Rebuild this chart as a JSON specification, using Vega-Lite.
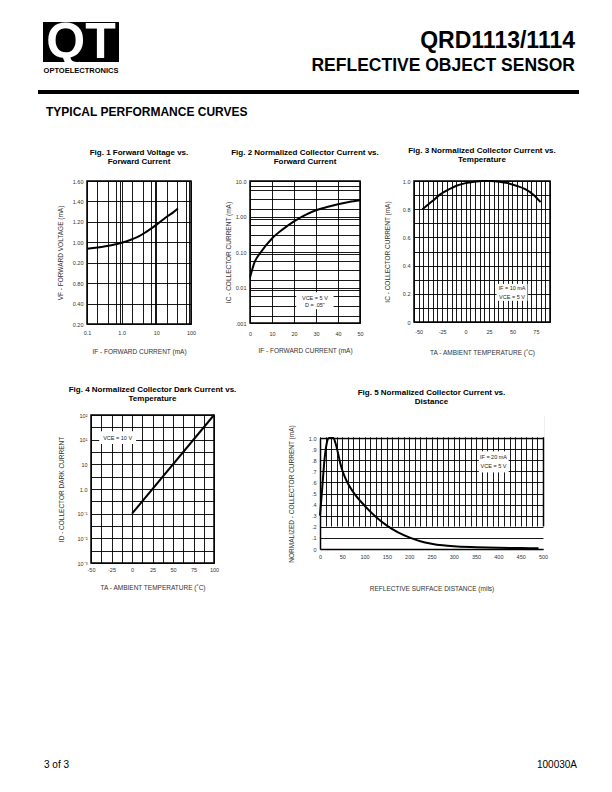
{
  "$schema": "https://vega.github.io/schema/vega-lite/v6.json",
  "background": "white",
  "padding": {"left": 36, "top": 16, "right": 0, "bottom": 0},
  "spacing": 0,
  "config": {
    "font": "Liberation Sans",
    "view": {"stroke": "black", "strokeWidth": 1.5},
    "axis": {"grid": true, "gridColor": "black", "gridWidth": 0.9, "gridOpacity": 1, "domain": false, "ticks": false, "labelFontSize": 5.5, "labelColor": "#333", "labelPadding": 4, "labelFlush": false, "labelOverlap": false, "titleFontSize": 6.5, "titleFontWeight": "normal", "titleColor": "#333"},
    "title": {"font": "Liberation Sans", "fontSize": 8, "fontWeight": "bold", "anchor": "middle", "frame": "group", "lineHeight": 9, "color": "black"},
    "line": {"color": "black", "strokeWidth": 2}
  },
  "vconcat": [
    {
      "width": 541, "height": 130,
      "view": {"stroke": null},
      "data": {"values": [{}]},
      "layer": [
        {"mark": {"type": "rect", "color": "black"},
         "encoding": {"x": {"datum": 5, "type": "quantitative", "scale": {"domain": [0, 541], "nice": false, "zero": false}, "axis": null}, "x2": {"datum": 81},
                      "y": {"datum": 6, "type": "quantitative", "scale": {"domain": [0, 130], "nice": false, "zero": false, "reverse": true}, "axis": null}, "y2": {"datum": 46}}},
        {"mark": {"type": "text", "text": "QT", "fontSize": 50, "fontWeight": "bold", "color": "white", "align": "center", "baseline": "middle"},
         "encoding": {"x": {"datum": 43, "type": "quantitative", "axis": null}, "y": {"datum": 26.5, "type": "quantitative", "axis": null}}},
        {"mark": {"type": "text", "text": "OPTOELECTRONICS", "fontSize": 7.5, "fontWeight": "bold", "color": "black", "align": "center", "baseline": "middle"},
         "encoding": {"x": {"datum": 43, "type": "quantitative", "axis": null}, "y": {"datum": 54.5, "type": "quantitative", "axis": null}}},
        {"mark": {"type": "text", "text": "QRD1113/1114", "fontSize": 23, "fontWeight": "bold", "color": "black", "align": "right", "baseline": "alphabetic"},
         "encoding": {"x": {"datum": 537, "type": "quantitative", "axis": null}, "y": {"datum": 32, "type": "quantitative", "axis": null}}},
        {"mark": {"type": "text", "text": "REFLECTIVE OBJECT SENSOR", "fontSize": 17.5, "fontWeight": "bold", "color": "black", "align": "right", "baseline": "alphabetic"},
         "encoding": {"x": {"datum": 537, "type": "quantitative", "axis": null}, "y": {"datum": 55, "type": "quantitative", "axis": null}}},
        {"mark": {"type": "rule", "color": "black", "strokeWidth": 4},
         "encoding": {"x": {"datum": 0, "type": "quantitative", "axis": null}, "x2": {"datum": 541}, "y": {"datum": 76, "type": "quantitative", "axis": null}}},
        {"mark": {"type": "text", "text": "TYPICAL PERFORMANCE CURVES", "fontSize": 12, "fontWeight": "bold", "color": "black", "align": "left", "baseline": "alphabetic"},
         "encoding": {"x": {"datum": 8, "type": "quantitative", "axis": null}, "y": {"datum": 100, "type": "quantitative", "axis": null}}}
      ]
    },
    {
      "spacing": 0,
      "hconcat": [
        {"width": 18, "height": 204, "view": {"stroke": null}, "data": {"values": []}, "mark": "point"},
        {
          "width": 104, "height": 143,
          "title": {"text": ["Fig. 1  Forward Voltage vs.", "Forward Current"], "offset": 13},
          "data": {"values": [
            {"current": 0.1, "voltage": 0.936}, {"current": 0.2, "voltage": 0.948}, {"current": 0.5, "voltage": 0.97},
            {"current": 1, "voltage": 0.995}, {"current": 2, "voltage": 1.03}, {"current": 3, "voltage": 1.055},
            {"current": 5, "voltage": 1.10}, {"current": 10, "voltage": 1.17}, {"current": 20, "voltage": 1.25},
            {"current": 30, "voltage": 1.29}, {"current": 42, "voltage": 1.33}
          ]},
          "mark": {"type": "line", "interpolate": "monotone"},
          "encoding": {
            "x": {"field": "current", "type": "quantitative", "scale": {"type": "log", "domain": [0.1, 100], "nice": false},
                  "axis": {"values": [0.1, 0.2, 0.4, 0.7, 0.9, 1, 2, 4, 7, 9, 10, 20, 40, 70, 90, 100],
                           "labelExpr": "datum.value == 0.1 ? '0.1' : datum.value == 1 ? '1.0' : datum.value == 10 ? '10' : datum.value == 100 ? '100' : ''",
                           "title": "IF - FORWARD CURRENT (mA)", "labelPadding": 6, "titlePadding": 13}},
            "y": {"field": "voltage", "type": "quantitative", "scale": {"domain": [0.2, 1.6], "nice": false, "zero": false},
                  "axis": {"values": [0.2, 0.4, 0.6, 0.8, 1.0, 1.2, 1.4, 1.6],
                           "labelExpr": "datum.value == 0.8 ? '0.20' : datum.value == 0.6 ? '0.80' : format(datum.value, '.2f')",
                           "title": "VF - FORWARD VOLTAGE (mA)", "titlePadding": 9}}
          }
        },
        {"width": 27, "height": 10, "view": {"stroke": null}, "data": {"values": []}, "mark": "point"},
        {
          "width": 110, "height": 142,
          "title": {"text": ["Fig. 2  Normalized Collector Current vs.", "Forward Current"], "offset": 13},
          "encoding": {
            "x": {"field": "current", "type": "quantitative", "scale": {"domain": [0, 50], "nice": false},
                  "axis": {"values": [0, 10, 20, 30, 40, 50], "title": "IF - FORWARD CURRENT (mA)", "labelPadding": 8, "titlePadding": 11}},
            "y": {"field": "ic", "type": "quantitative", "scale": {"type": "log", "domain": [0.001, 10], "nice": false},
                  "axis": {"values": [0.001, 0.0016, 0.0031, 0.0056, 0.0087, 0.01, 0.016, 0.031, 0.056, 0.087, 0.1, 0.16, 0.31, 0.56, 0.87, 1, 1.6, 3.1, 5.6, 7.2, 10],
                           "labelExpr": "datum.value == 10 ? '10.0' : datum.value == 1 ? '1.00' : datum.value == 0.1 ? '0.10' : datum.value == 0.01 ? '0.01' : datum.value == 0.001 ? '.001' : ''",
                           "title": "IC - COLLECTOR CURRENT (mA)", "titlePadding": 4}}
          },
          "layer": [
            {
              "data": {"values": [
                {"current": 0, "ic": 0.019}, {"current": 2, "ic": 0.05}, {"current": 5, "ic": 0.1}, {"current": 10, "ic": 0.24},
                {"current": 15, "ic": 0.44}, {"current": 20, "ic": 0.73}, {"current": 25, "ic": 1.1}, {"current": 30, "ic": 1.5},
                {"current": 35, "ic": 1.85}, {"current": 40, "ic": 2.2}, {"current": 45, "ic": 2.55}, {"current": 50, "ic": 2.85}
              ]},
              "mark": {"type": "line", "interpolate": "monotone"}
            },
            {
              "data": {"values": [{"current": 21, "current_end": 38, "ic": 0.0073, "ic_end": 0.00245}]},
              "mark": {"type": "rect", "color": "white"},
              "encoding": {"x2": {"field": "current_end"}, "y2": {"field": "ic_end"}}
            },
            {
              "data": {"values": [{"current": 29.5, "ic": 0.0052, "note": "VCE = 5 V"}, {"current": 29.5, "ic": 0.0032, "note": "D = .05\""}]},
              "mark": {"type": "text", "fontSize": 5.5, "baseline": "middle", "align": "center", "color": "#222"},
              "encoding": {"text": {"field": "note", "type": "nominal"}}
            }
          ]
        },
        {"width": 2, "height": 10, "view": {"stroke": null}, "data": {"values": []}, "mark": "point"},
        {
          "width": 136, "height": 141,
          "title": {"text": ["Fig. 3  Normalized Collector Current vs.", "Temperature"], "offset": 13},
          "encoding": {
            "x": {"field": "temp", "type": "quantitative", "scale": {"domain": [-55, 90], "nice": false, "zero": false},
                  "axis": {"values": [-55, -50, -45, -40, -35, -30, -25, -20, -15, -10, -5, 0, 5, 10, 15, 20, 25, 30, 35, 40, 45, 50, 55, 60, 65, 70, 75, 80, 85, 90],
                           "labelExpr": "datum.value % 25 == 0 && datum.value <= 75 ? '' + datum.value : ''",
                           "title": "TA - AMBIENT TEMPERATURE (˚C)", "labelPadding": 7, "titlePadding": 15}},
            "y": {"field": "ic", "type": "quantitative", "scale": {"domain": [0, 1], "nice": false},
                  "axis": {"values": [0, 0.1, 0.2, 0.3, 0.4, 0.5, 0.6, 0.7, 0.8, 0.9, 1],
                           "labelExpr": "datum.value == 0 ? '0' : datum.value == 0.2 ? '0.2' : datum.value == 0.4 ? '0.4' : datum.value == 0.6 ? '0.6' : datum.value == 0.8 ? '0.8' : datum.value == 1 ? '1.0' : ''",
                           "title": "IC - COLLECTOR CURRENT (mA)", "titlePadding": 12}}
          },
          "layer": [
            {
              "data": {"values": [
                {"temp": -46, "ic": 0.80}, {"temp": -35, "ic": 0.86}, {"temp": -27, "ic": 0.905}, {"temp": -15, "ic": 0.95},
                {"temp": -9, "ic": 0.968}, {"temp": 0, "ic": 0.985}, {"temp": 9, "ic": 0.995}, {"temp": 18, "ic": 1.0},
                {"temp": 27, "ic": 1.0}, {"temp": 36, "ic": 0.995}, {"temp": 45, "ic": 0.985}, {"temp": 55, "ic": 0.965},
                {"temp": 63, "ic": 0.944}, {"temp": 72, "ic": 0.905}, {"temp": 80, "ic": 0.85}
              ]},
              "mark": {"type": "line", "interpolate": "monotone"}
            },
            {
              "data": {"values": [{"temp": 33, "temp_end": 66, "ic": 0.27, "ic_end": 0.15}]},
              "mark": {"type": "rect", "color": "white"},
              "encoding": {"x2": {"field": "temp_end"}, "y2": {"field": "ic_end"}}
            },
            {
              "data": {"values": [{"temp": 49.5, "ic": 0.238, "note": "IF = 10 mA"}, {"temp": 49.5, "ic": 0.18, "note": "VCE = 5 V"}]},
              "mark": {"type": "text", "fontSize": 5.5, "baseline": "middle", "align": "center", "color": "#222"},
              "encoding": {"text": {"field": "note", "type": "nominal"}}
            }
          ]
        }
      ]
    },
    {
      "spacing": 0,
      "hconcat": [
        {"width": 19, "height": 338, "view": {"stroke": null}, "data": {"values": []}, "mark": "point"},
        {
          "width": 123, "height": 148,
          "title": {"text": ["Fig. 4  Normalized Collector Dark Current vs.", "Temperature"], "offset": 8},
          "encoding": {
            "x": {"field": "temp", "type": "quantitative", "scale": {"domain": [-50, 100], "nice": false, "zero": false},
                  "axis": {"values": [-50, -37.5, -25, -12.5, 0, 12.5, 25, 37.5, 50, 62.5, 75, 87.5, 100],
                           "labelExpr": "datum.value % 25 == 0 ? '' + datum.value : ''",
                           "title": "TA - AMBIENT TEMPERATURE (˚C)", "labelPadding": 4, "titlePadding": 12}},
            "y": {"field": "id", "type": "quantitative", "scale": {"type": "log", "domain": [0.001, 1000], "nice": false},
                  "axis": {"values": [0.001, 0.00316, 0.01, 0.0316, 0.1, 0.316, 1, 3.16, 10, 31.6, 100, 316, 1000],
                           "labelExpr": "datum.value == 1000 ? '10²' : datum.value == 100 ? '10¹' : datum.value == 10 ? '10' : datum.value == 1 ? '1.0' : datum.value == 0.1 ? '10⁻¹' : datum.value == 0.01 ? '10⁻²' : datum.value == 0.001 ? '10⁻³' : ''",
                           "title": "ID - COLLECTOR DARK CURRENT", "titlePadding": 13}}
          },
          "layer": [
            {
              "data": {"values": [{"temp": 0, "id": 0.1}, {"temp": 100, "id": 1000}]},
              "mark": {"type": "line"}
            },
            {
              "data": {"values": [{"temp": -40, "temp_end": 5, "id": 220, "id_end": 66}]},
              "mark": {"type": "rect", "color": "white"},
              "encoding": {"x2": {"field": "temp_end"}, "y2": {"field": "id_end"}}
            },
            {
              "data": {"values": [{"temp": -17.5, "id": 120, "note": "VCE = 10 V"}]},
              "mark": {"type": "text", "fontSize": 5.5, "baseline": "middle", "align": "center", "color": "#222"},
              "encoding": {"text": {"field": "note", "type": "nominal"}}
            }
          ]
        },
        {"width": 49, "height": 10, "view": {"stroke": null}, "data": {"values": []}, "mark": "point"},
        {
          "width": 223, "height": 134,
          "view": {"stroke": null},
          "title": {"text": ["Fig. 5  Normalized Collector Current vs.", "Distance"], "offset": 8},
          "encoding": {
            "x": {"field": "distance", "type": "quantitative", "scale": {"domain": [0, 500], "nice": false},
                  "axis": {"values": [0, 12.5, 25, 37.5, 50, 62.5, 75, 87.5, 100, 112.5, 125, 137.5, 150, 162.5, 175, 187.5, 200, 212.5, 225, 237.5, 250, 262.5, 275, 287.5, 300, 312.5, 325, 337.5, 350, 362.5, 375, 387.5, 400, 412.5, 425, 437.5, 450, 462.5, 475, 487.5, 500],
                           "labelExpr": "datum.value % 50 == 0 ? '' + datum.value : ''",
                           "domain": true, "domainColor": "black", "domainWidth": 1.5,
                           "gridWidth": {"condition": {"test": "datum.value == 500", "value": 1.5}, "value": 0.9},
                           "title": "REFLECTIVE SURFACE DISTANCE (mils)", "labelPadding": 5, "titlePadding": 26}},
            "y": {"field": "ic", "type": "quantitative", "scale": {"domain": [0, 1], "nice": false, "range": [134, 23]},
                  "axis": {"values": [0, 0.1, 0.2, 0.3, 0.4, 0.5, 0.6, 0.7, 0.8, 0.9, 1],
                           "labelExpr": "datum.value == 0 ? '0' : datum.value == 1 ? '1.0' : '.' + round(datum.value * 10)",
                           "domain": true, "domainColor": "black", "domainWidth": 1.5,
                           "gridWidth": {"condition": {"test": "datum.value == 1", "value": 1.5}, "value": 0.9},
                           "title": "NORMALIZED - COLLECTOR CURRENT (mA)", "titlePadding": 14}}
          },
          "layer": [
            {
              "data": {"values": [{"distance": -4, "distance_end": 504, "ic": 1.007, "ic_end": 1.22}]},
              "mark": {"type": "rect", "color": "white"},
              "encoding": {"x2": {"field": "distance_end"}, "y2": {"field": "ic_end"}}
            },
            {
              "data": {"values": [
                {"distance": 0, "ic": 0.3}, {"distance": 5, "ic": 0.55}, {"distance": 10, "ic": 0.8}, {"distance": 15, "ic": 0.95},
                {"distance": 20, "ic": 1.0}, {"distance": 30, "ic": 1.0}, {"distance": 35, "ic": 0.95}, {"distance": 40, "ic": 0.87},
                {"distance": 45, "ic": 0.78}, {"distance": 50, "ic": 0.71}, {"distance": 60, "ic": 0.61}, {"distance": 75, "ic": 0.51},
                {"distance": 100, "ic": 0.39}, {"distance": 125, "ic": 0.29}, {"distance": 150, "ic": 0.21}, {"distance": 175, "ic": 0.15},
                {"distance": 200, "ic": 0.105}, {"distance": 225, "ic": 0.07}, {"distance": 250, "ic": 0.048}, {"distance": 275, "ic": 0.033},
                {"distance": 300, "ic": 0.024}, {"distance": 350, "ic": 0.016}, {"distance": 400, "ic": 0.011}, {"distance": 450, "ic": 0.008},
                {"distance": 490, "ic": 0.006}
              ]},
              "mark": {"type": "line", "interpolate": "monotone"}
            },
            {
              "data": {"values": [{"distance": 356, "distance_end": 423, "ic": 0.88, "ic_end": 0.69}]},
              "mark": {"type": "rect", "color": "white"},
              "encoding": {"x2": {"field": "distance_end"}, "y2": {"field": "ic_end"}}
            },
            {
              "data": {"values": [{"distance": 389, "ic": 0.83, "note": "IF = 20 mA"}, {"distance": 389, "ic": 0.745, "note": "VCE = 5 V"}]},
              "mark": {"type": "text", "fontSize": 5.5, "baseline": "middle", "align": "center", "color": "#222"},
              "encoding": {"text": {"field": "note", "type": "nominal"}}
            }
          ]
        }
      ]
    },
    {
      "width": 541, "height": 24,
      "view": {"stroke": null},
      "data": {"values": [{}]},
      "layer": [
        {"mark": {"type": "text", "text": "3 of 3", "fontSize": 10, "color": "black", "align": "left", "baseline": "middle"},
         "encoding": {"x": {"datum": 6, "type": "quantitative", "scale": {"domain": [0, 541], "nice": false, "zero": false}, "axis": null},
                      "y": {"datum": 12, "type": "quantitative", "scale": {"domain": [0, 24], "nice": false, "zero": false, "reverse": true}, "axis": null}}},
        {"mark": {"type": "text", "text": "100030A", "fontSize": 10, "color": "black", "align": "right", "baseline": "middle"},
         "encoding": {"x": {"datum": 539, "type": "quantitative", "axis": null}, "y": {"datum": 12, "type": "quantitative", "axis": null}}}
      ]
    }
  ]
}
